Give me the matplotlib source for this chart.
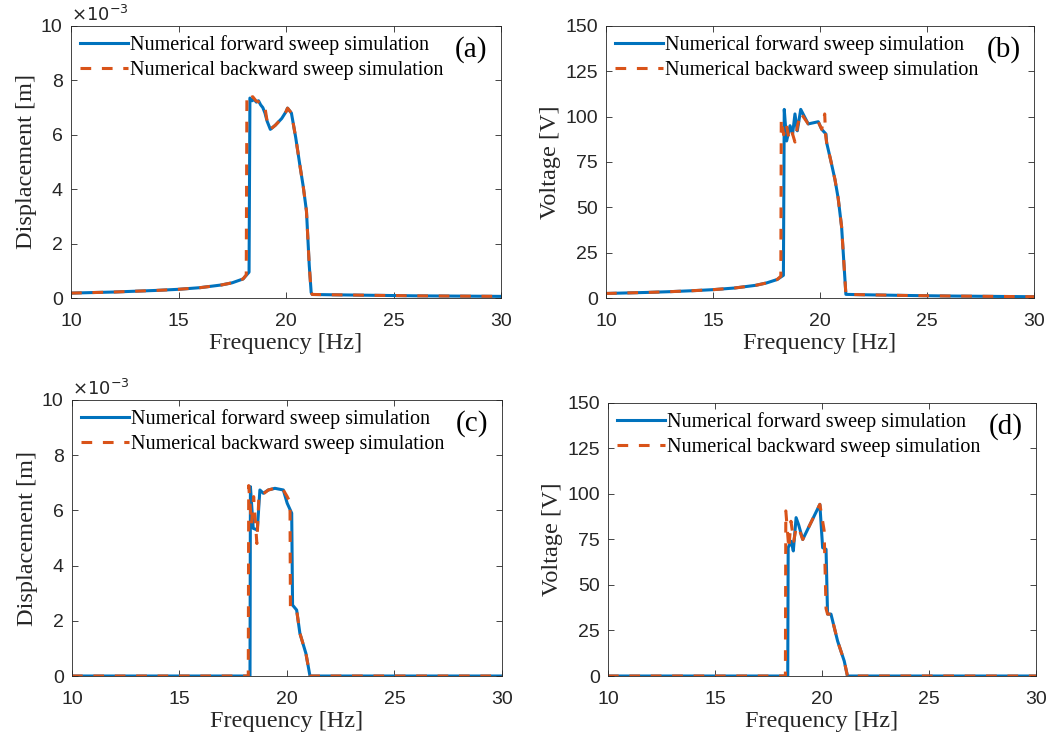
import matplotlib
matplotlib.use('Agg')
import matplotlib.pyplot as plt

# ---- data (frequency in Hz) ----
# (a) displacement, in units of 1e-3 m
fa_fwd = [10, 11, 12, 13, 14, 15, 16, 17, 17.5, 18, 18.28, 18.32, 18.42, 18.52, 18.62, 18.72, 18.82,
          18.92, 19.02, 19.12, 19.27, 19.5, 19.8, 20.0, 20.07, 20.25, 20.45, 20.65, 20.8, 20.95, 21.08,
          21.17, 21.22, 22, 24, 26, 28, 30]
da_fwd = [0.18, 0.2, 0.22, 0.25, 0.28, 0.32, 0.38, 0.48, 0.56, 0.7, 0.95, 7.35, 7.25, 7.3, 7.2, 7.25, 7.1,
          7.0, 6.8, 6.5, 6.2, 6.35, 6.6, 6.85, 6.98, 6.8, 5.9, 4.85, 4.1, 3.2, 1.2,
          0.2, 0.13, 0.12, 0.1, 0.08, 0.07, 0.06]
fa_bwd = [10, 11, 12, 13, 14, 15, 16, 17, 17.5, 18, 18.15, 18.18, 18.3, 18.45, 18.6, 18.75, 18.9,
          19.0, 19.12, 19.27, 19.5, 19.8, 20.0, 20.07, 20.25, 20.45, 20.65, 20.8, 20.95, 21.08,
          21.17, 21.22, 22, 24, 26, 28, 30]
da_bwd = [0.18, 0.2, 0.22, 0.25, 0.28, 0.32, 0.38, 0.48, 0.56, 0.7, 0.85, 7.45, 7.35, 7.4, 7.25, 7.2, 7.15,
          7.1, 6.5, 6.2, 6.35, 6.6, 6.85, 6.98, 6.8, 5.9, 4.85, 4.1, 3.2, 1.2,
          0.2, 0.13, 0.12, 0.1, 0.08, 0.07, 0.06]

# (b) voltage, V
fb_fwd = [10, 11, 12, 13, 14, 15, 16, 17, 17.5, 18, 18.29, 18.33, 18.44, 18.6, 18.72, 18.83, 18.94,
          19.1, 19.45, 19.92, 20.08, 20.28, 20.31, 20.5, 20.7, 20.85, 21.01, 21.17, 21.21, 22, 24, 26, 28, 30]
vb_fwd = [2.5, 2.8, 3.1, 3.5, 4.0, 4.6, 5.5, 7.0, 8.3, 10.2, 12.5, 104, 86.6, 95, 90.4, 101.5, 92.2,
          104, 96, 97.2, 93, 90.4, 85.7, 76, 65.3, 55, 39.2, 9.5, 2.0, 1.8, 1.4, 1.1, 0.9, 0.7]
fb_bwd = [10, 11, 12, 13, 14, 15, 16, 17, 17.5, 18, 18.17, 18.19, 18.3, 18.42, 18.55, 18.68, 18.83,
          18.95, 19.1, 19.45, 19.92, 20.08, 20.22, 20.26, 20.31, 20.5, 20.7, 20.85, 21.01, 21.17, 21.21,
          22, 24, 26, 28, 30]
vb_bwd = [2.5, 2.8, 3.1, 3.5, 4.0, 4.6, 5.5, 7.0, 8.3, 10.2, 12.0, 98.7, 90, 96, 88, 92, 86,
          95, 102, 96, 97.2, 93, 101.5, 90, 85.7, 76, 65.3, 55, 39.2, 9.5, 2.0,
          1.8, 1.4, 1.1, 0.9, 0.7]

# (c) displacement, in units of 1e-3 m
fc_fwd = [10, 18.28, 18.3, 18.43, 18.62, 18.74, 18.9, 19.13, 19.44, 19.83, 20.01, 20.22, 20.26, 20.45,
          20.6, 20.88, 21.07, 30]
dc_fwd = [0, 0, 6.86, 5.35, 5.29, 6.74, 6.62, 6.74, 6.8, 6.74, 6.26, 5.9, 2.57, 2.39,
          1.55, 0.82, 0, 0]
fc_bwd = [10, 18.2, 18.22, 18.35, 18.45, 18.6, 18.7, 18.9, 19.13, 19.44, 19.83, 20.01, 20.14, 20.16,
          20.26, 20.45, 20.6, 20.88, 21.07, 30]
dc_bwd = [0, 0, 6.9, 5.5, 6.5, 4.8, 6.6, 6.6, 6.74, 6.8, 6.74, 6.5, 6.3, 2.5,
          2.5, 2.39, 1.55, 0.82, 0, 0]

# (d) voltage, V
fd_fwd = [10, 18.4, 18.42, 18.56, 18.66, 18.79, 18.91, 19.1, 19.9, 20.03, 20.19, 20.26, 20.42, 20.73,
          21.04, 21.19, 30]
vd_fwd = [0, 0, 70.5, 74, 68.7, 87, 83, 75, 94.3, 70.5, 69.6, 34, 34, 19.2,
          8.2, 0, 0]
fd_bwd = [10, 18.29, 18.31, 18.45, 18.55, 18.68, 18.8, 18.95, 19.1, 19.9, 20.1, 20.19, 20.26, 20.42,
          20.73, 21.04, 21.19, 30]
vd_bwd = [0, 0, 90.7, 70, 85, 74, 82, 80, 75, 94.3, 80, 37, 34, 34,
          19.2, 8.2, 0, 0]

labels = ['Numerical forward sweep simulation', 'Numerical backward sweep simulation']
blue = '#0072BD'
orange = '#D95319'
ink = '#262626'

plt.rcParams['font.family'] = 'Liberation Sans'

fig = plt.figure(figsize=(10.51, 7.38), dpi=100)
positions = [
    [0.0676, 0.5962, 0.4091, 0.3686],
    [0.5766, 0.5962, 0.4072, 0.3686],
    [0.0685, 0.0840, 0.4091, 0.3740],
    [0.5785, 0.0840, 0.4072, 0.3700],
]
panels = [
    (fa_fwd, da_fwd, fa_bwd, da_bwd, 'Displacement [m]', '(a)'),
    (fb_fwd, vb_fwd, fb_bwd, vb_bwd, 'Voltage [V]', '(b)'),
    (fc_fwd, dc_fwd, fc_bwd, dc_bwd, 'Displacement [m]', '(c)'),
    (fd_fwd, vd_fwd, fd_bwd, vd_bwd, 'Voltage [V]', '(d)'),
]

for pos, (xf, yf, xb, yb, ylab, tag) in zip(positions, panels):
    ax = fig.add_axes(pos)
    ax.plot(xf, yf, color=blue, lw=2.2, label=labels[0])
    ax.plot(xb, yb, color=orange, lw=2.2, ls=(0, (3.5, 3.5)), label=labels[1])
    ax.set_xlim(10, 30)
    ax.set_xticks([10, 15, 20, 25, 30])
    if 'Voltage' in ylab:
        ax.set_ylim(0, 150)
        ax.set_yticks([0, 25, 50, 75, 100, 125, 150])
    else:
        # values are in mm; show the MATLAB-style exponent above the axis
        ax.set_ylim(0, 10)
        ax.set_yticks([0, 2, 4, 6, 8, 10])
        ax.text(0.0, 1.005, r'$\times10^{-3}$', transform=ax.transAxes, ha='left', va='bottom',
                fontsize=13, color=ink)
    ax.tick_params(direction='in', top=True, right=True, labelsize=14, colors=ink,
                   length=4, width=0.6)
    ax.tick_params(axis='x', pad=11)
    ax.tick_params(axis='y', pad=6)
    for sp in ax.spines.values():
        sp.set_color(ink)
        sp.set_linewidth(0.6)
    ax.set_xlabel('Frequency [Hz]', family='Liberation Serif', fontsize=17.5, color=ink, labelpad=2)
    ax.set_ylabel(ylab, family='Liberation Serif', fontsize=17.5, color=ink, labelpad=3)
    ax.legend(loc='upper left', frameon=False, prop={'family': 'Liberation Serif', 'size': 14.5},
              handlelength=2.4, handletextpad=0.1, labelspacing=0.28, borderaxespad=0.2,
              borderpad=0.25)
    ax.text(0.93, 0.915, tag, transform=ax.transAxes, family='Liberation Serif', fontsize=21,
            ha='center', va='center', color='black')

fig.savefig('out.png', dpi=100)
